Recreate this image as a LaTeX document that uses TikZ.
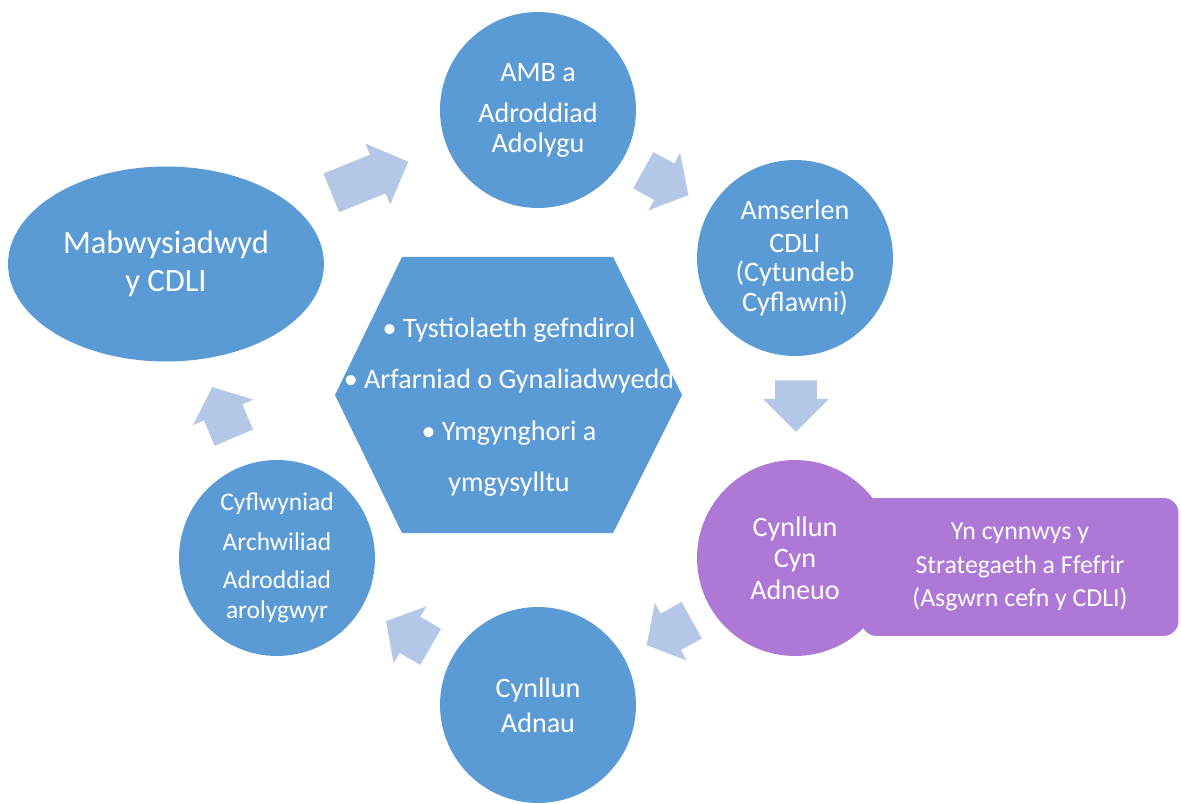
\documentclass[tikz,border=0pt]{standalone}
\usepackage{fontspec}
\setmainfont{Carlito}
\usepackage{tikz}
\usetikzlibrary{shapes.geometric}
\usetikzlibrary{shapes.arrows}

\definecolor{stageblue}{HTML}{5B9BD5}
\definecolor{arrowblue}{HTML}{B4C7E7}
\definecolor{stagepurple}{HTML}{AD78D6}

\begin{document}
\begin{tikzpicture}[
    x=0.02cm, y=-0.02cm,
    stage/.style={circle, fill=stageblue, text=white, minimum size=3.92cm, inner sep=0pt, align=center, font=\fontsize{16}{18}\selectfont},
    flow/.style={single arrow, fill=arrowblue, inner xsep=0pt, inner ysep=0.41cm, anchor=tail, single arrow head extend=0.24cm, minimum height=1.03cm, single arrow tip angle=100}
]
\useasboundingbox (0,0) rectangle (1181,804);

% Define stages
\node[ellipse, fill=stageblue, minimum width=6.32cm, minimum height=3.9cm, text=white, align=center, font=\fontsize{18.5}{21.5}\selectfont] (adopt) at (166,264) {Mabwysiadwyd\\y CDLI};
\node[stage, font=\fontsize{16}{17}\selectfont] (amb) at (538,110) {AMB a\\[6.4pt]Adroddiad\\Adolygu};
\node[stage, font=\fontsize{16}{17}\selectfont] (timetable) at (795,258) {Amserlen\\[1.7pt]CDLI\\(Cytundeb\\Cyflawni)};
\node[fill=stagepurple, rounded corners=0.3cm, minimum width=6.34cm, minimum height=2.76cm, text=white, align=center, font=\fontsize{14.7}{19.3}\selectfont] (note) at (1020,567) {Yn cynnwys y\\Strategaeth a Ffefrir\\(Asgwrn cefn y CDLI)};
\node[stage, fill=stagepurple] (preplan) at (795,558) {Cynllun\\Cyn\\Adneuo};
\node[stage, font=\fontsize{16}{19.8}\selectfont] (deposit) at (538,705) {Cynllun\\Adnau};
\node[stage, font=\fontsize{14.5}{17}\selectfont] (exam) at (277,558) {Cyflwyniad\\[5.7pt]Archwiliad\\[4.7pt]Adroddiad\\arolygwyr};

% Define centre
\fill[stageblue] (402,257) -- (613,257) -- (682,395) -- (613,533) -- (402,533) -- (335,395) -- cycle;
\node[text=white, align=center, font=\fontsize{16}{29.3}\selectfont] (evidence) at (509,407) {\textbullet\ Tystiolaeth gefndirol\\\textbullet\ Arfarniad o Gynaliadwyedd\\\textbullet\ Ymgynghori a\\ymgysylltu};

% Define arrows
\node[flow, rotate=22, minimum height=1.66cm, single arrow tip angle=90] (f1) at (331,193) {};
\node[flow, rotate=-29] (f2) at (643,170) {};
\node[flow, rotate=-90, single arrow tip angle=90] (f3) at (796,380) {};
\node[flow, rotate=-151] (f4) at (692,620) {};
\node[flow, rotate=150] (f5) at (431,647) {};
\node[flow, rotate=113, minimum height=1.1cm] (f6) at (234,438) {};

\end{tikzpicture}
\end{document}
